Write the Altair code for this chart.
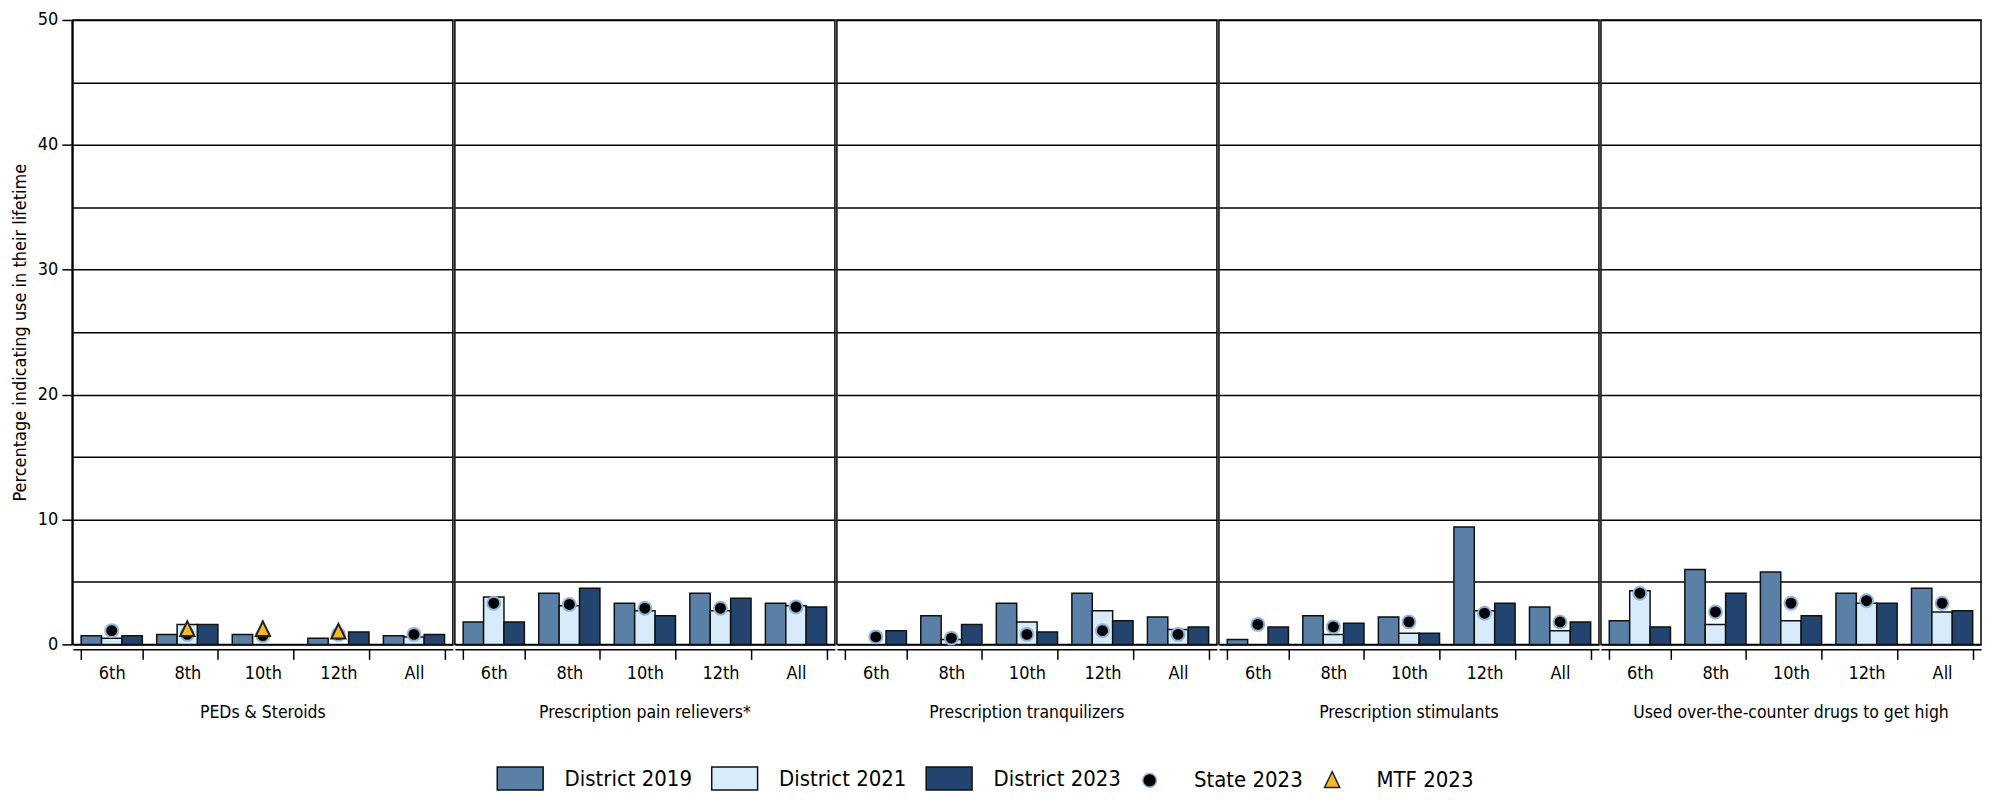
import altair as alt
import pandas as pd

categories = ["PEDs & Steroids", "Prescription pain relievers*", "Prescription tranquilizers",
              "Prescription stimulants", "Used over-the-counter drugs to get high"]
grades = ["6th", "8th", "10th", "12th", "All"]
series = ["District 2019", "District 2021", "District 2023", "State 2023", "MTF 2023"]

d2019 = [[0.7, 0.8, 0.8, 0.5, 0.7],
         [1.8, 4.1, 3.3, 4.1, 3.3],
         [None, 2.3, 3.3, 4.1, 2.2],
         [0.4, 2.3, 2.2, 9.4, 3.0],
         [1.9, 6.0, 5.8, 4.1, 4.5]]
d2021 = [[0.5, 1.6, None, None, 0.6],
         [3.8, 3.1, 2.7, 2.7, 3.1],
         [None, 0.4, 1.8, 2.7, 1.2],
         [None, 0.8, 0.9, 2.7, 1.1],
         [4.3, 1.6, 1.9, 3.3, 2.6]]
d2023 = [[0.7, 1.6, None, 1.0, 0.8],
         [1.8, 4.5, 2.3, 3.7, 3.0],
         [1.1, 1.6, 1.0, 1.9, 1.4],
         [1.4, 1.7, 0.9, 3.3, 1.8],
         [1.4, 4.1, 2.3, 3.3, 2.7]]
state = [[1.1, 0.8, 0.7, 0.8, 0.8],
         [3.3, 3.2, 2.9, 2.9, 3.0],
         [0.6, 0.5, 0.8, 1.1, 0.8],
         [1.6, 1.4, 1.8, 2.5, 1.8],
         [4.1, 2.6, 3.3, 3.5, 3.3]]
mtf = [[None, 1.2, 1.2, 1.0, None],
       [None, None, None, None, None],
       [None, None, None, None, None],
       [None, None, None, None, None],
       [None, None, None, None, None]]

rows = []
for s, arr in zip(series, [d2019, d2021, d2023, state, mtf]):
    for ci, cat in enumerate(categories):
        for gi, g in enumerate(grades):
            v = arr[ci][gi]
            if v is not None:
                rows.append({"category": cat, "grade": g, "series": s, "value": v})
df = pd.DataFrame(rows)

FONT = "Liberation Sans Narrow, DejaVu Sans Condensed, Liberation Sans, sans-serif"

fill_colors = ["#5a80a8", "#d8ebfb", "#23446e", "#000000", "#f8b62d"]
stroke_colors = ["#111111", "#111111", "#111111", "#8fb5dd", "#222222"]
rect = "M-2,-1H2V1H-2Z"
circ = "M-0.6,0A0.6,0.6 0 1,0 0.6,0A0.6,0.6 0 1,0 -0.6,0Z"
tri = "M0,-0.75L0.66,0.62L-0.66,0.62Z"
shapes = [rect, rect, rect, circ, tri]

leg = alt.Legend(title=None, orient="none", direction="horizontal",
                 legendX=436, legendY=748, symbolSize=529, symbolStrokeWidth=1.5,
                 labelFontSize=22, labelFont=FONT, labelColor="black",
                 columnPadding=16, labelOffset=32, symbolOpacity=1)

color = alt.Color("series:N", scale=alt.Scale(domain=series, range=fill_colors), legend=leg)
stroke = alt.Stroke("series:N", scale=alt.Scale(domain=series, range=stroke_colors), legend=leg)

x = alt.X("grade:N", sort=grades, title=None,
          scale=alt.Scale(paddingInner=0.19, paddingOuter=0.11),
          axis=alt.Axis(tickBand="extent", tickSize=10, tickColor="black", tickWidth=1.5,
                        domainColor="black", domainWidth=1.5, labelAngle=0, labelFontSize=18,
                        labelFont=FONT, labelColor="black", labelPadding=5, grid=False))
y = alt.Y("value:Q", scale=alt.Scale(domain=[0, 50], nice=False),
          axis=alt.Axis(values=list(range(0, 51, 5)),
                        labelExpr="datum.value % 10 === 0 ? datum.label : ''",
                        tickOpacity={"condition": {"test": "datum.value % 10 === 0", "value": 1}, "value": 0},
                        tickSize=10, tickColor="black", tickWidth=1.5,
                        grid=True, gridColor="black", gridWidth=1.5,
                        domainColor="black", domainWidth=2,
                        labelFontSize=18, labelFont=FONT, labelColor="black", labelPadding=4,
                        title="Percentage indicating use in their lifetime",
                        titleFontSize=18, titleFont=FONT, titleFontWeight="normal",
                        titleColor="black", titlePadding=8))

bars = alt.Chart().mark_bar(strokeWidth=1.5).encode(
    x=x, y=y,
    xOffset=alt.XOffset("series:N", sort=series[:3], scale=alt.Scale(paddingInner=0, paddingOuter=0)),
    color=color, stroke=stroke,
).transform_filter(alt.FieldOneOfPredicate(field="series", oneOf=series[:3]))

points = alt.Chart().mark_point(filled=True, size=467, strokeWidth=2, opacity=1).encode(
    x=x, y=y,
    color=color, stroke=stroke,
    shape=alt.Shape("series:N", scale=alt.Scale(domain=series, range=shapes), legend=leg),
).transform_filter(alt.FieldOneOfPredicate(field="series", oneOf=series[3:]))

chart = alt.layer(bars, points, data=df).properties(width=381, height=626).facet(
    column=alt.Column("category:N", sort=categories, title=None,
                      header=alt.Header(labelOrient="bottom", labelFontSize=17.5, labelFont=FONT,
                                        labelColor="black", labelPadding=22)),
    spacing=0,
).configure_view(stroke="black", strokeWidth=1.5).properties(
    padding={"left": 3, "top": 2, "right": 0, "bottom": 0}
)

chart.save("out.html", embed_options={"renderer": "svg", "actions": False})
